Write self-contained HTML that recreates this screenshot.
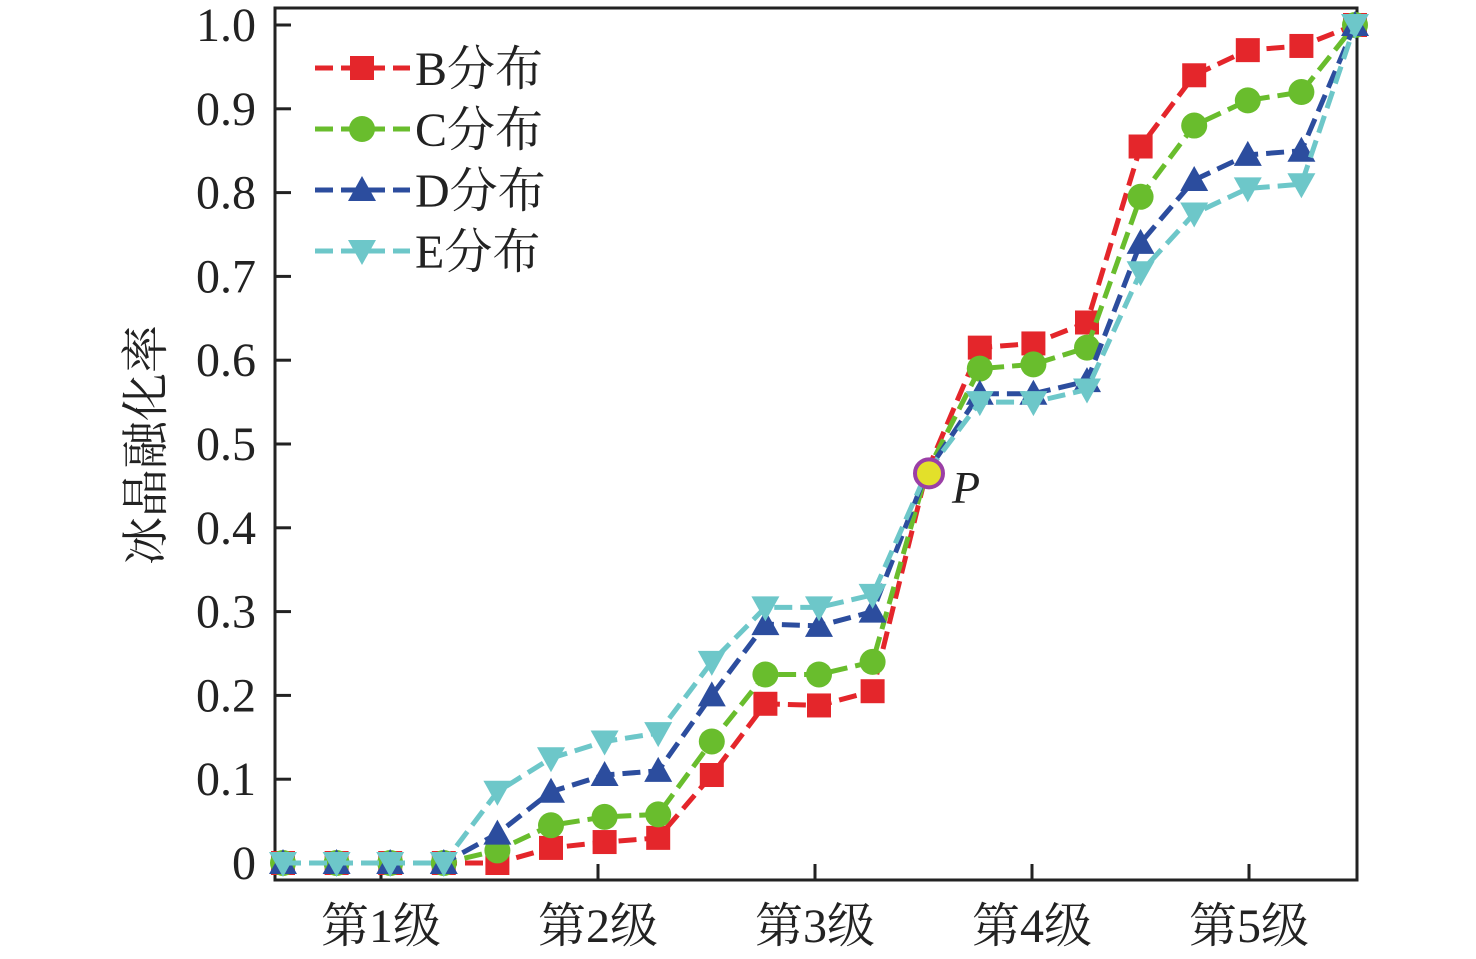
<!DOCTYPE html>
<html><head><meta charset="utf-8"><style>
html,body{margin:0;padding:0;background:#fff;}
svg{display:block;}
text{font-family:"Liberation Serif","Noto Serif CJK SC","Noto Sans CJK SC",serif;fill:#222;}
</style></head><body>
<svg width="1476" height="959" viewBox="0 0 1476 959" xmlns="http://www.w3.org/2000/svg">
<rect x="275" y="8" width="1082" height="872" fill="none" stroke="#222" stroke-width="3"/>
<g id="yt" stroke="#222" stroke-width="3"></g>
<g id="plot"></g>
<g font-size="48" text-anchor="end" id="ylab"></g>
<g font-size="48" text-anchor="middle">
<text x="381" y="942">第1级</text><text x="598" y="942">第2级</text><text x="815" y="942">第3级</text><text x="1032" y="942">第4级</text><text x="1249" y="942">第5级</text>
</g>
<text transform="translate(162,445) rotate(-90)" font-size="48" text-anchor="middle">冰晶融化率</text>
<text x="952" y="503" font-size="46" font-style="italic">P</text>
<g id="leg"></g>
</svg>
<script>
const NS="http://www.w3.org/2000/svg";
function el(p,t,a){const e=document.createElementNS(NS,t);for(const k in a)e.setAttribute(k,a[k]);p.appendChild(e);return e;}
const Y=v=>863-v*838, X=i=>283+53.6*i;
const yt=document.getElementById('yt'),yl=document.getElementById('ylab');
for(let k=0;k<=10;k++){const y=Y(k/10);el(yt,'line',{x1:275,x2:291,y1:y,y2:y});
 const t=el(yl,'text',{x:256,y:y+16});t.textContent=k==0?'0':(k==10?'1.0':'0.'+k);}
for(const x of [381,598,815,1032,1249])el(yt,'line',{x1:x,x2:x,y1:880,y2:864});
const S=[
["#e4262b","sq",[0,0,0,0,0,0.018,0.025,0.03,0.105,0.19,0.188,0.205,0.465,0.615,0.62,0.645,0.855,0.94,0.97,0.975,1.0]],
["#69bd2d","ci",[0,0,0,0,0.015,0.045,0.055,0.058,0.145,0.225,0.225,0.24,0.465,0.59,0.595,0.615,0.795,0.88,0.91,0.92,1.0]],
["#2c4d9e","up",[0,0,0,0,0.035,0.085,0.105,0.11,0.2,0.285,0.283,0.3,0.465,0.56,0.56,0.575,0.74,0.815,0.845,0.85,1.0]],
["#6dc7c9","dn",[0,0,0,0,0.085,0.125,0.145,0.155,0.24,0.305,0.305,0.32,0.465,0.55,0.55,0.565,0.705,0.775,0.805,0.81,1.0]]];
const g=document.getElementById('plot');
function mk(p,type,x,y,c){
 if(type=='sq')el(p,'rect',{x:x-12,y:y-12,width:24,height:24,fill:c});
 else if(type=='ci')el(p,'circle',{cx:x,cy:y,r:13,fill:c});
 else if(type=='up')el(p,'polygon',{points:`${x},${y-14} ${x-14},${y+11} ${x+14},${y+11}`,fill:c});
 else el(p,'polygon',{points:`${x},${y+14} ${x-14},${y-11} ${x+14},${y-11}`,fill:c});
}
S.forEach(([c,t,d])=>{
 el(g,'polyline',{points:d.map((v,i)=>X(i)+','+Y(v)).join(' '),fill:'none',stroke:c,'stroke-width':5,'stroke-dasharray':'18,8'});
 d.forEach((v,i)=>{if(i!=12)mk(g,t,X(i),Y(v),c);});
});
el(g,'circle',{cx:929,cy:Y(0.465),r:14,fill:'#e3e02a',stroke:'#9b3fa6','stroke-width':4});
const lg=document.getElementById('leg');
const names=['B分布','C分布','D分布','E分布'];
S.forEach(([c,t],k)=>{const y=68+k*61;
 el(lg,'line',{x1:315,x2:410,y1:y,y2:y,stroke:c,'stroke-width':5,'stroke-dasharray':'18,8'});
 mk(lg,t,362,y,c);
 const tx=el(lg,'text',{x:415,y:y+17,'font-size':48});tx.textContent=names[k];});
</script>
</body></html>
